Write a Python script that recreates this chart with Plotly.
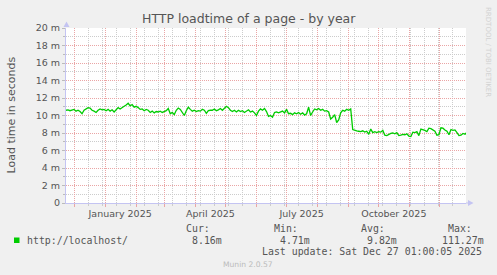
import pandas as pd
import plotly.graph_objects as go

# ---------------- data ----------------
start_date = "2024-11-23"
end_date = "2025-12-27"
# load time in milliseconds, one sample every 2 days from start_date
load_ms = [
    10.6, 10.65, 10.55, 10.6, 10.7, 10.5, 10.6, 10.45, 10.2, 10.6,
    10.75, 10.9, 10.85, 10.6, 10.5, 10.35, 10.6, 10.75, 10.65, 10.7,
    10.55, 10.7, 10.5, 10.65, 10.4, 10.7, 10.9, 10.75, 10.95, 11.05,
    11.2, 11.4, 11.1, 11.25, 10.95, 11.05, 10.9, 10.7, 10.75, 10.55,
    10.7, 10.6, 10.35, 10.5, 10.3, 10.45, 10.4, 10.5, 10.35, 10.45,
    10.55, 10.8, 10.2, 10.35, 10.1, 10.6, 10.85, 10.7, 10.3, 10.0,
    10.55, 10.95, 10.7, 10.5, 10.6, 10.45, 10.55, 10.5, 10.7, 10.6,
    10.25, 10.55, 10.6,
    10.6, 10.75, 10.55, 10.65, 10.8, 10.6, 10.85, 11.05, 10.9, 10.6,
    10.45, 10.6, 10.4, 10.6, 10.45, 10.55, 10.35, 10.5, 10.65, 10.4,
    10.5, 10.3, 10.0, 10.5, 10.75, 10.6, 10.8, 10.45, 9.9, 10.0,
    9.8, 10.35, 10.4, 10.3, 10.45, 10.5, 10.3, 10.7, 10.2, 10.25,
    10.1, 10.3, 10.2, 10.35, 10.15, 10.3, 10.05, 10.2, 10.95, 10.0,
    10.4, 10.75, 10.65, 10.8, 10.6, 10.7, 10.5, 10.55, 10.4, 9.6,
    9.8, 10.1, 9.2, 9.5, 10.3, 10.6, 10.5, 10.7, 10.6, 10.75,
    8.4, 8.3, 8.25, 8.2, 8.15, 8.25, 8.1, 8.2, 7.85, 8.45,
    8.05, 8.15, 8.05, 8.15, 8.1, 8.3, 7.75, 7.7, 7.85, 7.95,
    8.0, 7.9, 8.05, 7.7, 7.75, 7.85, 7.8, 7.9, 7.65, 7.6,
    8.1, 8.05, 8.15, 7.7, 8.45, 8.4, 8.3, 8.15, 8.55, 8.5,
    8.3, 8.2, 7.75, 7.8, 8.6, 8.55, 8.35, 8.2, 7.8, 8.4,
    8.3, 8.35, 8.05, 7.7, 7.75, 7.95, 7.85, 8.1,
]
dates = pd.date_range(start_date, periods=len(load_ms), freq="2D")

y_tick_vals = [0, 2, 4, 6, 8, 10, 12, 14, 16, 18, 20]
y_tick_text = ["0", "2 m", "4 m", "6 m", "8 m", "10 m", "12 m", "14 m", "16 m", "18 m", "20 m"]
month_starts = pd.date_range("2024-12-01", "2025-12-01", freq="MS")
x_label_vals = ["2025-01-16", "2025-04-16", "2025-07-16", "2025-10-16"]
x_label_text = ["January 2025", "April 2025", "July 2025", "October 2025"]

title = "HTTP loadtime of a page - by year"
y_title = "Load time in seconds"
series_name = "http://localhost/"
stat_heads = ["Cur:", "Min:", "Avg:", "Max:"]
stat_vals = ["8.16m", "4.71m", "9.82m", "111.27m"]
last_update = "Last update: Sat Dec 27 01:00:05 2025"
footer = "Munin 2.0.57"
watermark = "RRDTOOL / TOBI OETIKER"

# ---------------- layout helpers ----------------
W, H = 497, 275
L, R, T, B = 66, 31, 28, 72
PW, PH = W - L - R, H - T - B
def px(x):
    return (x - L) / PW
def py(y):
    return (H - B - y) / PH

GREEN = "#00CC00"
TXT = "#555555"
RED_GRID = "#EAA5A5"
GRAY_GRID = "#CCCCCC"
AXIS = "#C4C4F2"
SANS = "DejaVu Sans"
MONO = "DejaVu Sans Mono"

fig = go.Figure()
fig.add_trace(go.Scatter(x=dates, y=load_ms, mode="lines",
                         line=dict(color=GREEN, width=1.3), showlegend=False,
                         hoverinfo="skip"))
fig.add_trace(go.Scatter(x=x_label_vals, y=[None] * len(x_label_vals), xaxis="x2",
                         mode="markers", showlegend=False, hoverinfo="skip"))

xr = [start_date, end_date]
fig.update_layout(
    width=W, height=H,
    margin=dict(l=L, r=R, t=T, b=B, pad=0),
    paper_bgcolor="#F0F0F0", plot_bgcolor="#FFFFFF",
    font=dict(family=SANS, size=9.5, color=TXT),
    xaxis=dict(
        range=xr, type="date",
        tickmode="array", tickvals=list(month_starts), showticklabels=False,
        ticks="outside", ticklen=3, tickcolor=RED_GRID,
        showgrid=True, gridcolor=RED_GRID, griddash="1px,1px", gridwidth=1,
        minor=dict(tick0="2024-12-15", dtick=14 * 86400000, showgrid=True,
                   gridcolor=GRAY_GRID, griddash="1px,1px", gridwidth=1,
                   ticks="outside", ticklen=2, tickcolor=GRAY_GRID),
        showline=True, linecolor=AXIS, linewidth=1, zeroline=False, fixedrange=True,
    ),
    xaxis2=dict(
        range=xr, type="date", overlaying="x", anchor="y", side="bottom",
        tickmode="array", tickvals=x_label_vals, ticktext=x_label_text,
        showgrid=False, ticks="", ticklen=0, showline=False, zeroline=False,
        ticklabelstandoff=3,
        tickfont=dict(family=SANS, size=9.5, color=TXT),
    ),
    yaxis=dict(
        range=[0, 20], tickmode="array", tickvals=y_tick_vals, ticktext=y_tick_text,
        ticks="outside", ticklen=3, tickcolor="#BBBBBB",
        showgrid=True, gridcolor=RED_GRID, griddash="1px,1px", gridwidth=1,
        minor=dict(dtick=1, showgrid=True, gridcolor=GRAY_GRID, griddash="1px,1px",
                   gridwidth=1, ticks="outside", ticklen=2, tickcolor="#BBBBBB"),
        showline=True, linecolor=AXIS, linewidth=1, zeroline=False,
        tickfont=dict(family=SANS, size=9.5, color=TXT),
    ),
)

shapes = [
    # axis arrows
    dict(type="path", xref="paper", yref="paper",
         path=f"M {px(66.5)},{py(21.5)} L {px(63.5)},{py(27)} L {px(69.5)},{py(27)} Z",
         fillcolor=AXIS, line=dict(width=0)),
    dict(type="path", xref="paper", yref="paper",
         path=f"M {px(473.5)},{py(203)} L {px(468)},{py(200)} L {px(468)},{py(206)} Z",
         fillcolor=AXIS, line=dict(width=0)),
    dict(type="line", xref="paper", yref="paper", x0=1, x1=px(468), y0=0, y1=0,
         line=dict(color=AXIS, width=1)),
    # legend swatch
    dict(type="rect", xref="paper", yref="paper", x0=px(14), x1=px(19.5),
         y0=py(237.5), y1=py(243), fillcolor=GREEN, line=dict(width=0)),
]
fig.update_layout(shapes=shapes)

ann = []
def text(x, y, s, font, size, color=TXT, xanchor="left", angle=0):
    ann.append(dict(x=px(x), y=py(y), xref="paper", yref="paper", text=s,
                    showarrow=False, xanchor=xanchor, yanchor="middle",
                    textangle=angle, borderpad=0,
                    font=dict(family=font, size=size, color=color)))

text(249, 18.5, title, SANS, 12.5, xanchor="center")
text(11, 114.5, y_title, SANS, 11, xanchor="center", angle=-90)
text(488, 52, watermark, SANS, 7, color="#D2D2D2", xanchor="center", angle=90)
text(26, 240, series_name, MONO, 9.9)
head_x = [185, 273, 360, 447]
val_x = [191, 279, 366, 441]
for hx, h in zip(head_x, stat_heads):
    text(hx, 228.3, h, MONO, 9.9)
for vx, v in zip(val_x, stat_vals):
    text(vx, 240, v, MONO, 9.9)
text(482.5, 251.3, last_update, MONO, 9.9, xanchor="right")
text(248, 264.3, footer, SANS, 7.6, color="#BBBBBB", xanchor="center")
fig.update_layout(annotations=ann)

fig.write_html("out.html")
